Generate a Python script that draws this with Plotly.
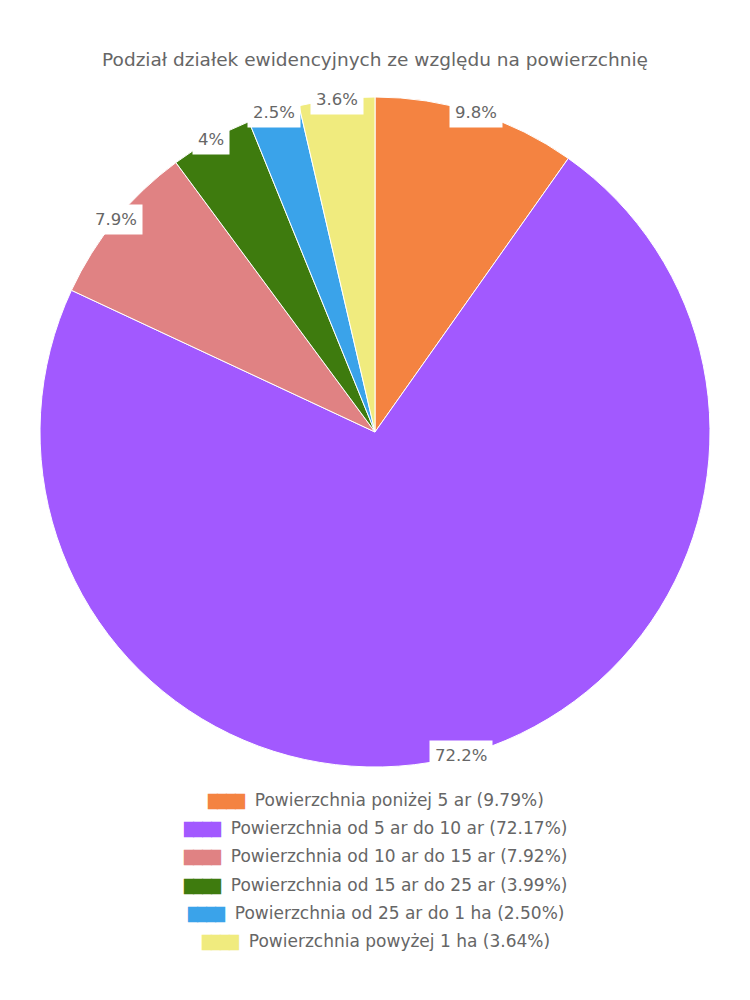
import math
import plotly.graph_objects as go

# Data
labels = [
    "Powierzchnia poniżej 5 ar",
    "Powierzchnia od 5 ar do 10 ar",
    "Powierzchnia od 10 ar do 15 ar",
    "Powierzchnia od 15 ar do 25 ar",
    "Powierzchnia od 25 ar do 1 ha",
    "Powierzchnia powyżej 1 ha",
]
values = [9.79, 72.17, 7.92, 3.99, 2.50, 3.64]
colors = ["#F48341", "#A259FF", "#E08283", "#3E7B0E", "#3AA3EA", "#F0EB7E"]

title = "Podział działek ewidencyjnych ze względu na powierzchnię"
font_family = "'DejaVu Sans', sans-serif"
text_color = "#666666"

W, H = 750, 1000
# pie placement (paper fractions)
dom_x = [40 / W, 710 / W]
dom_y = [1 - 767 / H, 1 - 97 / H]

fig = go.Figure()
fig.add_trace(go.Pie(
    labels=labels,
    values=values,
    sort=False,
    direction="clockwise",
    rotation=0,
    marker=dict(colors=colors, line=dict(color="white", width=1)),
    textinfo="none",
    hoverinfo="label+percent",
    showlegend=False,
    domain=dict(x=dom_x, y=dom_y),
))

# percentage labels sitting on the outer edge of each slice
cx = (dom_x[0] + dom_x[1]) / 2
cy = (dom_y[0] + dom_y[1]) / 2
rx = (dom_x[1] - dom_x[0]) / 2
ry = (dom_y[1] - dom_y[0]) / 2
total = sum(values)
cum = 0
for v in values:
    mid = (cum + v / 2) / total * 2 * math.pi
    cum += v
    pct = round(v / total * 100, 1)
    txt = f"{pct:g}%"
    fig.add_annotation(
        x=cx + rx * math.sin(mid), y=cy + ry * math.cos(mid),
        xref="paper", yref="paper", xanchor="center", yanchor="middle",
        text=txt, showarrow=False,
        font=dict(family=font_family, size=16.5, color=text_color),
        bgcolor="white", borderpad=5,
    )

# legend, one centred row per item
row0 = 1 - 800 / H
row_step = 28.2 / H
for i, (lab, v, c) in enumerate(zip(labels, values, colors)):
    fig.add_annotation(
        x=0.5, y=row0 - i * row_step, xref="paper", yref="paper",
        xanchor="center", yanchor="middle", showarrow=False,
        text=(f"<span style='color:{c};font-size:13px;letter-spacing:-1px'>████</span>"
              f"  {lab} ({v:.2f}%)"),
        font=dict(family=font_family, size=17, color=text_color),
    )

fig.update_layout(
    width=W, height=H,
    title=dict(text=title, x=0.5, xanchor="center", y=1 - 60 / H, yanchor="middle",
               font=dict(family=font_family, size=18.5, color=text_color)),
    margin=dict(l=0, r=0, t=0, b=0),
    paper_bgcolor="white",
    plot_bgcolor="white",
)

fig.write_html("out.html", config={"displayModeBar": False},
               post_script="document.body.style.margin='0';")
